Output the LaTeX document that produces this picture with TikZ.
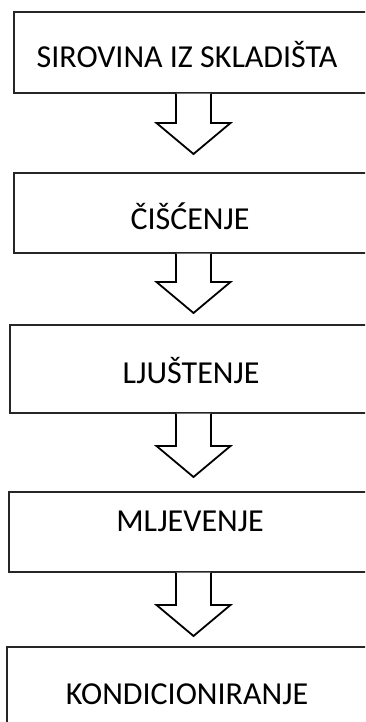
\documentclass[tikz,border=0pt]{standalone}
\usepackage{fontspec}
\setmainfont{Carlito}
\usetikzlibrary{calc}

\begin{document}
\begin{tikzpicture}[x=1pt,y=-1pt]
            \tikzset{stepbox/.style={draw=black!85, line width=1.2pt, rectangle, inner sep=0pt}}
            \tikzset{steptext/.style={anchor=base, inner sep=0pt, font=\fontsize{32}{38}\selectfont}}
            \tikzset{blockarr/.style={draw=black, line width=1.8pt, line join=miter, fill=white}}
            \useasboundingbox (0,0) rectangle (365,722);
            \clip (0,0) rectangle (365,722);
            \node[stepbox, minimum width=359pt, minimum height=81pt] (b1) at (193.5,52.5) {};
            \node[stepbox, minimum width=359pt, minimum height=80pt] (b2) at (193.5,213) {};
            \node[stepbox, minimum width=367pt, minimum height=88pt] (b3) at (193.5,369) {};
            \node[stepbox, minimum width=369pt, minimum height=80pt] (b4) at (193.5,532) {};
            \node[stepbox, minimum width=373pt, minimum height=93pt] (b5) at (193.5,693.5) {};
            \node[steptext] (t1) at (187,68) {SIROVINA IZ SKLADIŠTA};
            \node[steptext] (t2) at (190,229) {ČIŠĆENJE};
            \node[steptext] (t3) at (191,383) {LJUŠTENJE};
            \node[steptext] (t4) at (190,531) {MLJEVENJE};
            \node[steptext] (t5) at (187,704) {KONDICIONIRANJE};
            \coordinate (k1) at (193.5,154);
            \coordinate (k2) at (193.5,313);
            \coordinate (k3) at (193.5,477);
            \coordinate (k4) at (193.5,636);
            \foreach \a/\k in {b1/k1, b2/k2, b3/k3, b4/k4}
                \draw[blockarr] ($(\a.south)+(-17.5,0)$) -- ($(\k)+(-17.5,-31)$)
                    -- ($(\k)+(-37,-31)$) -- (\k) -- ($(\k)+(37,-31)$)
                    -- ($(\k)+(17.5,-31)$) -- ($(\a.south)+(17.5,0)$);
        \end{tikzpicture}
\end{document}
